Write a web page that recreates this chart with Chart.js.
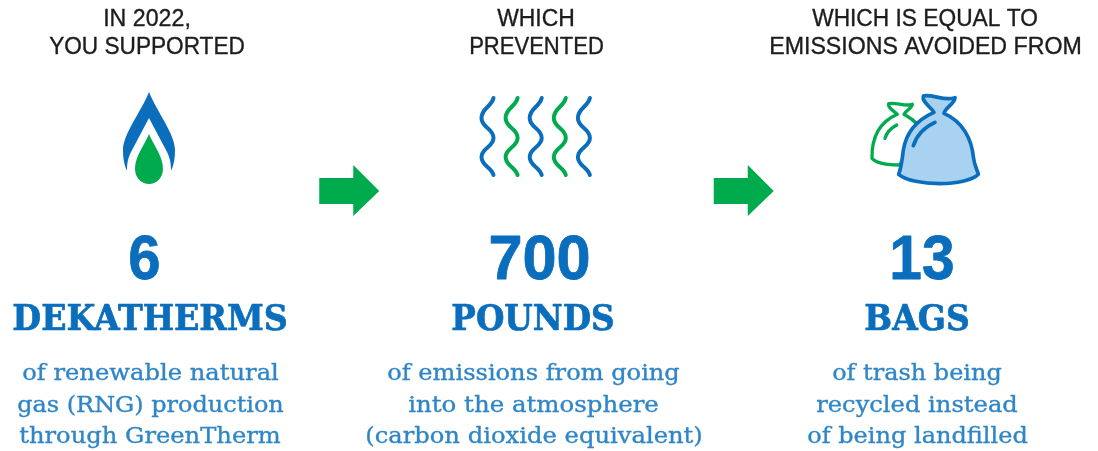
<!DOCTYPE html>
<html><head><meta charset="utf-8">
<style>html,body{margin:0;padding:0;background:#fff;overflow:hidden}canvas{display:block}</style>
<script src="https://cdn.jsdelivr.net/npm/chart.js@4"></script></head>
<body><canvas id="c" width="1098" height="451"></canvas>
<script>
// ---- data ----
const units = ["DEKATHERMS", "POUNDS", "BAGS"];
const amounts = [6, 700, 13];
const headers = [["IN 2022,", "YOU SUPPORTED"], ["WHICH", "PREVENTED"], ["WHICH IS EQUAL TO", "EMISSIONS AVOIDED FROM"]];
const captions = [
  ["of renewable natural", "gas (RNG) production", "through GreenTherm"],
  ["of emissions from going", "into the atmosphere", "(carbon dioxide equivalent)"],
  ["of trash being", "recycled instead", "of being landfilled"]
];
// ---- layout (pixel spans of each text line: left, right) ----
const headerSpans = [[[103,191],[49,245]], [[497,575],[469,604]], [[812,1038],[769,1082]]];
const amountSpans = [[128,161],[488,591],[889,955]];
const unitSpans = [[12,288],[451,615],[864,970]];
const captionSpans = [
  [[22,279],[17,284],[19,281]],
  [[387,680],[408,659],[365,703]],
  [[832,1002],[816,1018],[807,1028]]
];
const BLUE = "#0A6EBD", GREEN = "#00AB4E", BODY = "#2F86C6", INK = "#1c1c1c", PALE = "#A9D2F1";

function fit(ctx, text, span, y, font, color, heavy) {
  ctx.save();
  ctx.font = font; ctx.fillStyle = color; ctx.strokeStyle = color;
  ctx.textAlign = "center"; ctx.textBaseline = "alphabetic"; ctx.lineJoin = "round";
  const w = ctx.measureText(text).width + heavy;
  ctx.translate((span[0] + span[1]) / 2, y);
  ctx.scale((span[1] - span[0]) / w, 1);
  ctx.lineWidth = heavy;
  if (heavy) ctx.strokeText(text, 0, 0);
  ctx.fillText(text, 0, 0);
  ctx.restore();
}
function arrow(ctx, x, y) {
  ctx.fillStyle = GREEN; ctx.beginPath();
  ctx.moveTo(x - 30, y - 13); ctx.lineTo(x + 4, y - 13); ctx.lineTo(x + 4, y - 26);
  ctx.lineTo(x + 30, y); ctx.lineTo(x + 4, y + 25); ctx.lineTo(x + 4, y + 13); ctx.lineTo(x - 30, y + 13);
  ctx.closePath(); ctx.fill();
}
function flame(ctx, x) {
  ctx.fillStyle = BLUE; ctx.beginPath();
  ctx.moveTo(x, 92);
  ctx.bezierCurveTo(x + 8, 112, x + 26, 134, x + 26, 150);
  ctx.bezierCurveTo(x + 26, 158, x + 25, 165, x + 22, 171);
  ctx.bezierCurveTo(x + 22, 163, x + 21, 158, x + 18, 152);
  ctx.lineTo(x, 118);
  ctx.lineTo(x - 18, 152);
  ctx.bezierCurveTo(x - 21, 158, x - 22, 163, x - 22, 171);
  ctx.bezierCurveTo(x - 25, 165, x - 26, 158, x - 26, 150);
  ctx.bezierCurveTo(x - 26, 134, x - 8, 112, x, 92);
  ctx.closePath(); ctx.fill();
  ctx.fillStyle = GREEN; ctx.beginPath();
  ctx.moveTo(x, 134);
  ctx.bezierCurveTo(x + 5, 146, x + 14, 156, x + 14, 169);
  ctx.bezierCurveTo(x + 14, 178, x + 7, 184, x, 184);
  ctx.bezierCurveTo(x - 7, 184, x - 14, 178, x - 14, 169);
  ctx.bezierCurveTo(x - 14, 156, x - 5, 146, x, 134);
  ctx.closePath(); ctx.fill();
}
function wave(ctx, x, color) {
  ctx.strokeStyle = color; ctx.lineWidth = 4; ctx.lineCap = "round";
  ctx.beginPath();
  ctx.moveTo(x + 12, 98);
  ctx.bezierCurveTo(x + 10, 107, x, 108, x, 118);
  ctx.bezierCurveTo(x, 128, x + 12, 128, x + 12, 138);
  ctx.bezierCurveTo(x + 12, 147, x, 148, x, 157);
  ctx.bezierCurveTo(x, 166, x + 10, 167, x + 12, 175);
  ctx.stroke();
}
function bags(ctx, ox, oy) {
  ctx.save(); ctx.translate(ox, oy); ctx.scale(1 / 3, 1 / 3);
  ctx.lineJoin = "round"; ctx.lineCap = "round";
  // green bag
  ctx.strokeStyle = GREEN; ctx.lineWidth = 10; ctx.fillStyle = "#fff";
  ctx.beginPath();
  ctx.moveTo(592, 88);
  ctx.bezierCurveTo(582, 78, 562, 68, 566, 56);
  ctx.bezierCurveTo(585, 50, 615, 66, 637, 58);
  ctx.bezierCurveTo(635, 72, 617, 76, 612, 88);
  ctx.bezierCurveTo(625, 95, 640, 105, 655, 120);
  ctx.lineTo(600, 240);
  ctx.bezierCurveTo(570, 240, 530, 235, 516, 220);
  ctx.bezierCurveTo(515, 170, 530, 115, 592, 88);
  ctx.closePath(); ctx.fill(); ctx.stroke();
  ctx.beginPath(); ctx.moveTo(555, 160); ctx.quadraticCurveTo(562, 135, 590, 120); ctx.stroke();
  // blue bag
  ctx.strokeStyle = BLUE; ctx.lineWidth = 11; ctx.fillStyle = PALE;
  ctx.beginPath();
  ctx.moveTo(702, 82);
  ctx.bezierCurveTo(692, 65, 664, 50, 670, 33);
  ctx.bezierCurveTo(695, 26, 735, 50, 765, 38);
  ctx.bezierCurveTo(765, 55, 735, 68, 732, 85);
  ctx.bezierCurveTo(790, 110, 815, 165, 820, 215);
  ctx.bezierCurveTo(822, 240, 832, 255, 835, 268);
  ctx.bezierCurveTo(800, 305, 640, 305, 596, 268);
  ctx.bezierCurveTo(605, 245, 606, 225, 610, 195);
  ctx.bezierCurveTo(618, 145, 650, 105, 702, 82);
  ctx.closePath(); ctx.fill(); ctx.stroke();
  ctx.beginPath(); ctx.moveTo(640, 182); ctx.quadraticCurveTo(655, 135, 705, 112); ctx.stroke();
  ctx.restore();
}
const infographic = {
  id: "infographic",
  afterDatasetsDraw(chart) {
    const ctx = chart.ctx, xs = chart.scales.x;
    const c = i => xs.getPixelForValue(i);
    const vals = chart.data.datasets[0].data;
    units.forEach((u, i) => {
      headers[i].forEach((t, j) => fit(ctx, t, headerSpans[i][j], 26 + j * 28, "23px 'Liberation Sans'", INK, 0.35));
      fit(ctx, String(vals[i]), amountSpans[i], 279, "bold 63px 'Liberation Sans'", BLUE, 0.8);
      fit(ctx, u, unitSpans[i], 330, "bold 35px 'DejaVu Serif'", BLUE, 0.7);
      captions[i].forEach((t, j) => fit(ctx, t, captionSpans[i][j], 380 + j * 31.5, "22px 'DejaVu Serif'", BODY, 0.35));
    });
    arrow(ctx, c(0.5) + 10, 191);
    arrow(ctx, c(1.5) + 16, 191);
    flame(ctx, c(0) + 4);
    [0, 1, 2, 3, 4].forEach(k => wave(ctx, c(1) - 52 + k * 24.1, k % 2 ? GREEN : BLUE));
    bags(ctx, c(2) - 222, 85);
  }
};
new Chart(document.getElementById("c"), {
  type: "line",
  data: { labels: units, datasets: [{ label: "Impact", data: amounts, showLine: false, pointRadius: 0 }] },
  options: {
    responsive: false, animation: false, devicePixelRatio: 1,
    layout: { padding: { left: 145, right: 176, top: 0, bottom: 0 } },
    plugins: { legend: { display: false }, tooltip: { enabled: false }, title: { display: false } },
    scales: { x: { display: false }, y: { display: false } }
  },
  plugins: [infographic]
});
</script></body></html>
